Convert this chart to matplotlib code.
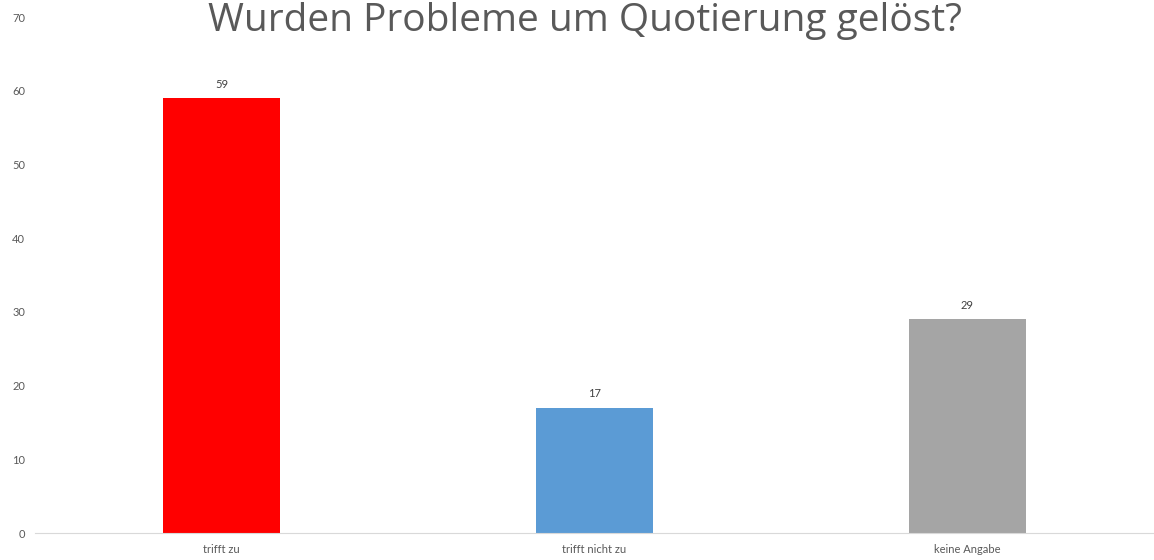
import matplotlib
matplotlib.use("Agg")
import matplotlib.pyplot as plt

plt.rcParams['font.family'] = ['Lato', 'DejaVu Sans']

# data
categories = ["trifft zu", "trifft nicht zu", "keine Angabe"]
values = [59, 17, 29]
colors = ["#FF0000", "#5B9BD5", "#A5A5A5"]
title = "Wurden Probleme um Quotierung gelöst?"

fig = plt.figure(figsize=(11.54, 5.6), dpi=100)
ax = fig.add_axes([0.0303, 0.0482, 0.9697, 0.9214])

x = range(len(categories))
bars = ax.bar(x, values, width=0.315, color=colors)
for b, v in zip(bars, values):
    ax.annotate(str(v), (b.get_x() + b.get_width() / 2, v), xytext=(0, 6),
                textcoords="offset points", ha="center", va="bottom",
                fontsize=8, color="#404040")

ax.set_xlim(-0.5, 2.5)
ax.set_ylim(0, 70)
ax.set_yticks(range(0, 71, 10))
ax.set_xticks(list(x))
ax.set_xticklabels(categories)
ax.tick_params(axis="both", length=0, labelsize=8, colors="#595959")
ax.tick_params(axis="y", pad=7)
ax.tick_params(axis="x", pad=8)
for s in ["top", "right", "left"]:
    ax.spines[s].set_visible(False)
ax.spines["bottom"].set_color("#D9D9D9")

fig.text(0.507, 1.0 - 31 / 560, title, ha="center", va="baseline",
         fontsize=28, color="#595959", family=["Open Sans", "DejaVu Sans"])

fig.savefig("out.png", dpi=100)
